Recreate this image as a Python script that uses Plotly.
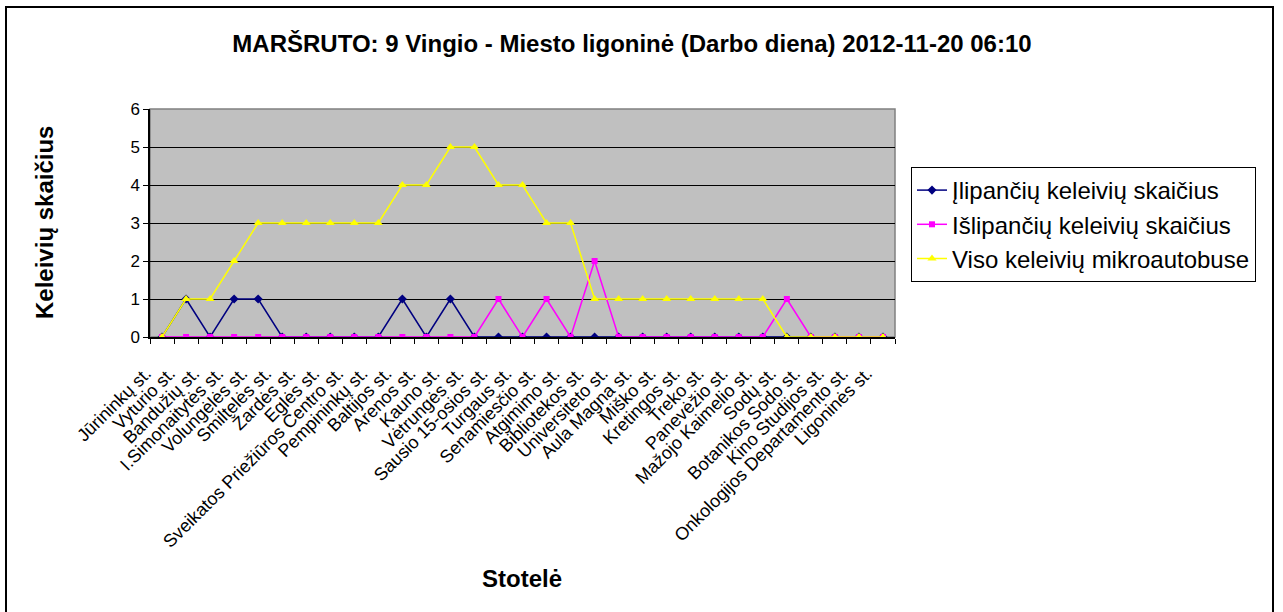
import plotly.graph_objects as go

# Route stops (in travel order)
stops = [
    "Jūrininkų st.", "Vyturio st.", "Bandužių st.", "I.Simonaitytės st.",
    "Volungėlės st.", "Smiltelės st.", "Žardės st.", "Eglės st.",
    "Sveikatos Priežiūros Centro st.", "Pempininkų st.", "Baltijos st.",
    "Arenos st.", "Kauno st.", "Vėtrungės st.", "Sausio 15-osios st.",
    "Turgaus st.", "Senamiesčio st.", "Atgimimo st.", "Bibliotekos st.",
    "Universiteto st.", "Aula Magna st.", "Miško st.", "Kretingos st.",
    "Treko st.", "Panevėžio st.", "Mažojo Kaimelio st.", "Sodų st.",
    "Botanikos Sodo st.", "Kino Studijos st.", "Onkologijos Departamento st.",
    "Ligoninės st.",
]

boarding = [0, 1, 0, 1, 1, 0, 0, 0, 0, 0, 1, 0, 1, 0, 0, 0,
            0, 0, 0, 0, 0, 0, 0, 0, 0, 0, 0, 0, 0, 0, 0]
alighting = [0, 0, 0, 0, 0, 0, 0, 0, 0, 0, 0, 0, 0, 0, 1, 0,
             1, 0, 2, 0, 0, 0, 0, 0, 0, 0, 1, 0, 0, 0, 0]
on_board = [0, 1, 1, 2, 3, 3, 3, 3, 3, 3, 4, 4, 5, 5, 4, 4,
            3, 3, 1, 1, 1, 1, 1, 1, 1, 1, 0, 0, 0, 0, 0]

FONT = "Arial, Liberation Sans, sans-serif"

W, H = 1283, 612
L, R, T, B = 150, 895, 109, 337  # plot area in pixels


def px_x(x):
    return (x - L) / (R - L)


def px_y(y):
    return (B - y) / (B - T)


fig = go.Figure()
fig.add_trace(go.Scatter(
    x=stops, y=boarding, mode="lines+markers",
    name="Įlipančių keleivių skaičius", legendgroup="a",
    line=dict(color="#000080", width=1.5),
    marker=dict(symbol="diamond", size=7, color="#000080"),
))
fig.add_trace(go.Scatter(
    x=stops, y=alighting, mode="lines+markers",
    name="Išlipančių keleivių skaičius", legendgroup="b",
    line=dict(color="#FF00FF", width=1.5),
    marker=dict(symbol="square", size=6, color="#FF00FF"),
))
fig.add_trace(go.Scatter(
    x=stops, y=on_board, mode="lines+markers",
    name="Viso keleivių mikroautobuse", legendgroup="c",
    line=dict(color="#FFFF00", width=1.5),
    marker=dict(symbol="triangle-up", size=8, color="#FFFF00"),
))

fig.update_layout(
    width=W, height=H,
    margin=dict(l=L, r=W - R, t=T, b=H - B),
    paper_bgcolor="white",
    plot_bgcolor="#C0C0C0",
    font=dict(family=FONT, color="black"),
    title=dict(
        text="<b>MARŠRUTO: 9 Vingio - Miesto ligoninė (Darbo diena) 2012-11-20 06:10</b>",
        xref="container", yref="container",
        x=632 / W, y=1 - 44 / H, xanchor="center", yanchor="middle",
        font=dict(size=24, family=FONT, color="black"),
    ),
    legend=dict(
        x=px_x(911), y=px_y(167), xanchor="left", yanchor="top",
        bordercolor="black", borderwidth=1, bgcolor="white",
        font=dict(size=24, family=FONT, color="black"),
        tracegroupgap=0,
    ),
    showlegend=True,
)

fig.update_xaxes(
    type="category", range=[-0.5, len(stops) - 0.5],
    tickangle=-45, tickfont=dict(size=18, family=FONT, color="black"),
    ticks="outside", tickson="boundaries", ticklen=5, tickcolor="black",
    ticklabelstandoff=17, ticklabelshift=-16,
    showline=True, linecolor="black", linewidth=1.5,
    showgrid=False, zeroline=False,
)
fig.update_yaxes(
    range=[0, 6], dtick=1,
    tickfont=dict(size=17, family=FONT, color="black"),
    ticks="outside", ticklen=5, tickcolor="black",
    showline=True, linecolor="black", linewidth=1.5,
    showgrid=True, gridcolor="black", gridwidth=1.2,
    zeroline=False,
)

# plot area frame
fig.add_shape(type="rect", xref="paper", yref="paper",
              x0=0, x1=1, y0=0, y1=1,
              line=dict(color="#808080", width=1.5), layer="below")

# outer chart border
fig.add_shape(type="rect", xref="paper", yref="paper",
              x0=px_x(6), x1=px_x(1273), y0=px_y(615), y1=px_y(7),
              line=dict(color="black", width=2))

# axis titles
fig.add_annotation(
    text="<b>Keleivių skaičius</b>", xref="paper", yref="paper",
    x=px_x(44), y=px_y(223), xanchor="center", yanchor="middle",
    textangle=-90, showarrow=False, font=dict(size=24, family=FONT),
)
fig.add_annotation(
    text="<b>Stotelė</b>", xref="paper", yref="paper",
    x=px_x(522), y=px_y(578), xanchor="center", yanchor="middle",
    showarrow=False, font=dict(size=24, family=FONT),
)

fig.write_html("out.html")
